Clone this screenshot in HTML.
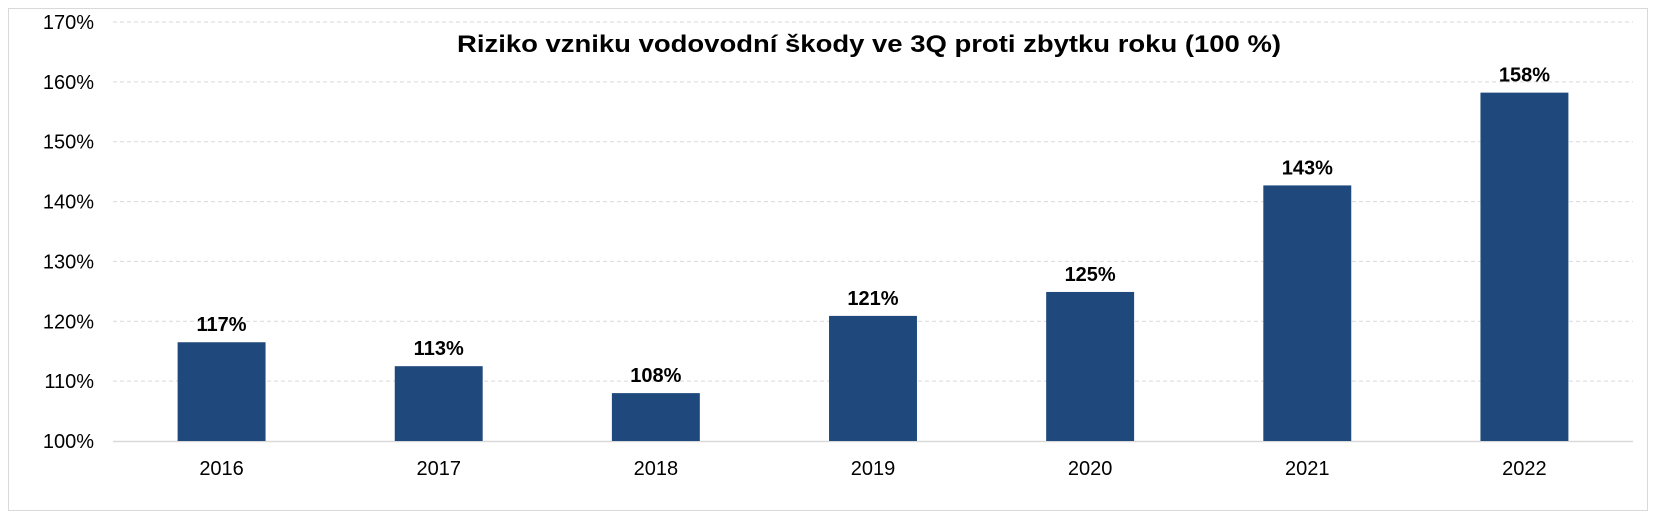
<!DOCTYPE html>
<html><head><meta charset="utf-8"><style>
html,body{margin:0;padding:0;background:#fff;}
svg{display:block;font-family:"Liberation Sans",Arial,sans-serif;}
</style></head><body>
<svg width="1660" height="531" viewBox="0 0 1660 531">
<rect x="8.5" y="8.5" width="1639" height="502" fill="#fff" stroke="#d9d9d9"/>
<text x="869" y="52" text-anchor="middle" font-size="24" font-weight="bold" fill="#000" textLength="824" lengthAdjust="spacingAndGlyphs">Riziko vzniku vodovodní škody ve 3Q proti zbytku roku (100 %)</text>
<g id="grid"></g><g id="bars"></g><g id="labels"></g>
</svg>
<script>
const categories=["2016","2017","2018","2019","2020","2021","2022"];
const values=[116.5,112.5,108.0,120.9,124.9,142.7,158.2];
const valueLabels=["117%","113%","108%","121%","125%","143%","158%"];
const yTicks=[100,110,120,130,140,150,160,170];
const yTickLabels=["100%","110%","120%","130%","140%","150%","160%","170%"];
const NS="http://www.w3.org/2000/svg";
const L=113,R=1633,T=22,B=441,ymin=100,ymax=170;
function y(v){return B-(v-ymin)/(ymax-ymin)*(B-T);}
const band=(R-L)/categories.length;
function xc(i){return L+band*(i+0.5);}
const bw=band*0.405;
function mk(tag,attrs,parent){const e=document.createElementNS(NS,tag);for(const k in attrs)e.setAttribute(k,attrs[k]);document.getElementById(parent).appendChild(e);return e;}
yTicks.forEach((t,i)=>{
  if(t!==ymin){
    const g=mk("line",{x1:L,x2:R,y1:y(t),y2:y(t),stroke:"#d9d9d9","stroke-dasharray":"4 3"},"grid");
    
    
  }
  const tx=mk("text",{x:94,y:y(t)+7,"text-anchor":"end","font-size":"20",fill:"#000"},"labels");
  tx.textContent=yTickLabels[i];
  
  
});
categories.forEach((c,i)=>{
  const r=mk("rect",{x:xc(i)-bw/2,y:y(values[i]),width:bw,height:B-y(values[i]),fill:"#1f497d"},"bars");
  
  
  const v=mk("text",{x:xc(i),y:y(values[i])-11,"text-anchor":"middle","font-size":"20","font-weight":"bold",fill:"#000"},"labels");
  v.textContent=valueLabels[i];
  
  
  const xl=mk("text",{x:xc(i),y:475,"text-anchor":"middle","font-size":"20",fill:"#000"},"labels");
  xl.textContent=c;
  
  
});
const ax=mk("line",{x1:L,x2:R,y1:B+0.5,y2:B+0.5,stroke:"#d9d9d9","stroke-width":"1.5"},"grid");


</script>
</body></html>
